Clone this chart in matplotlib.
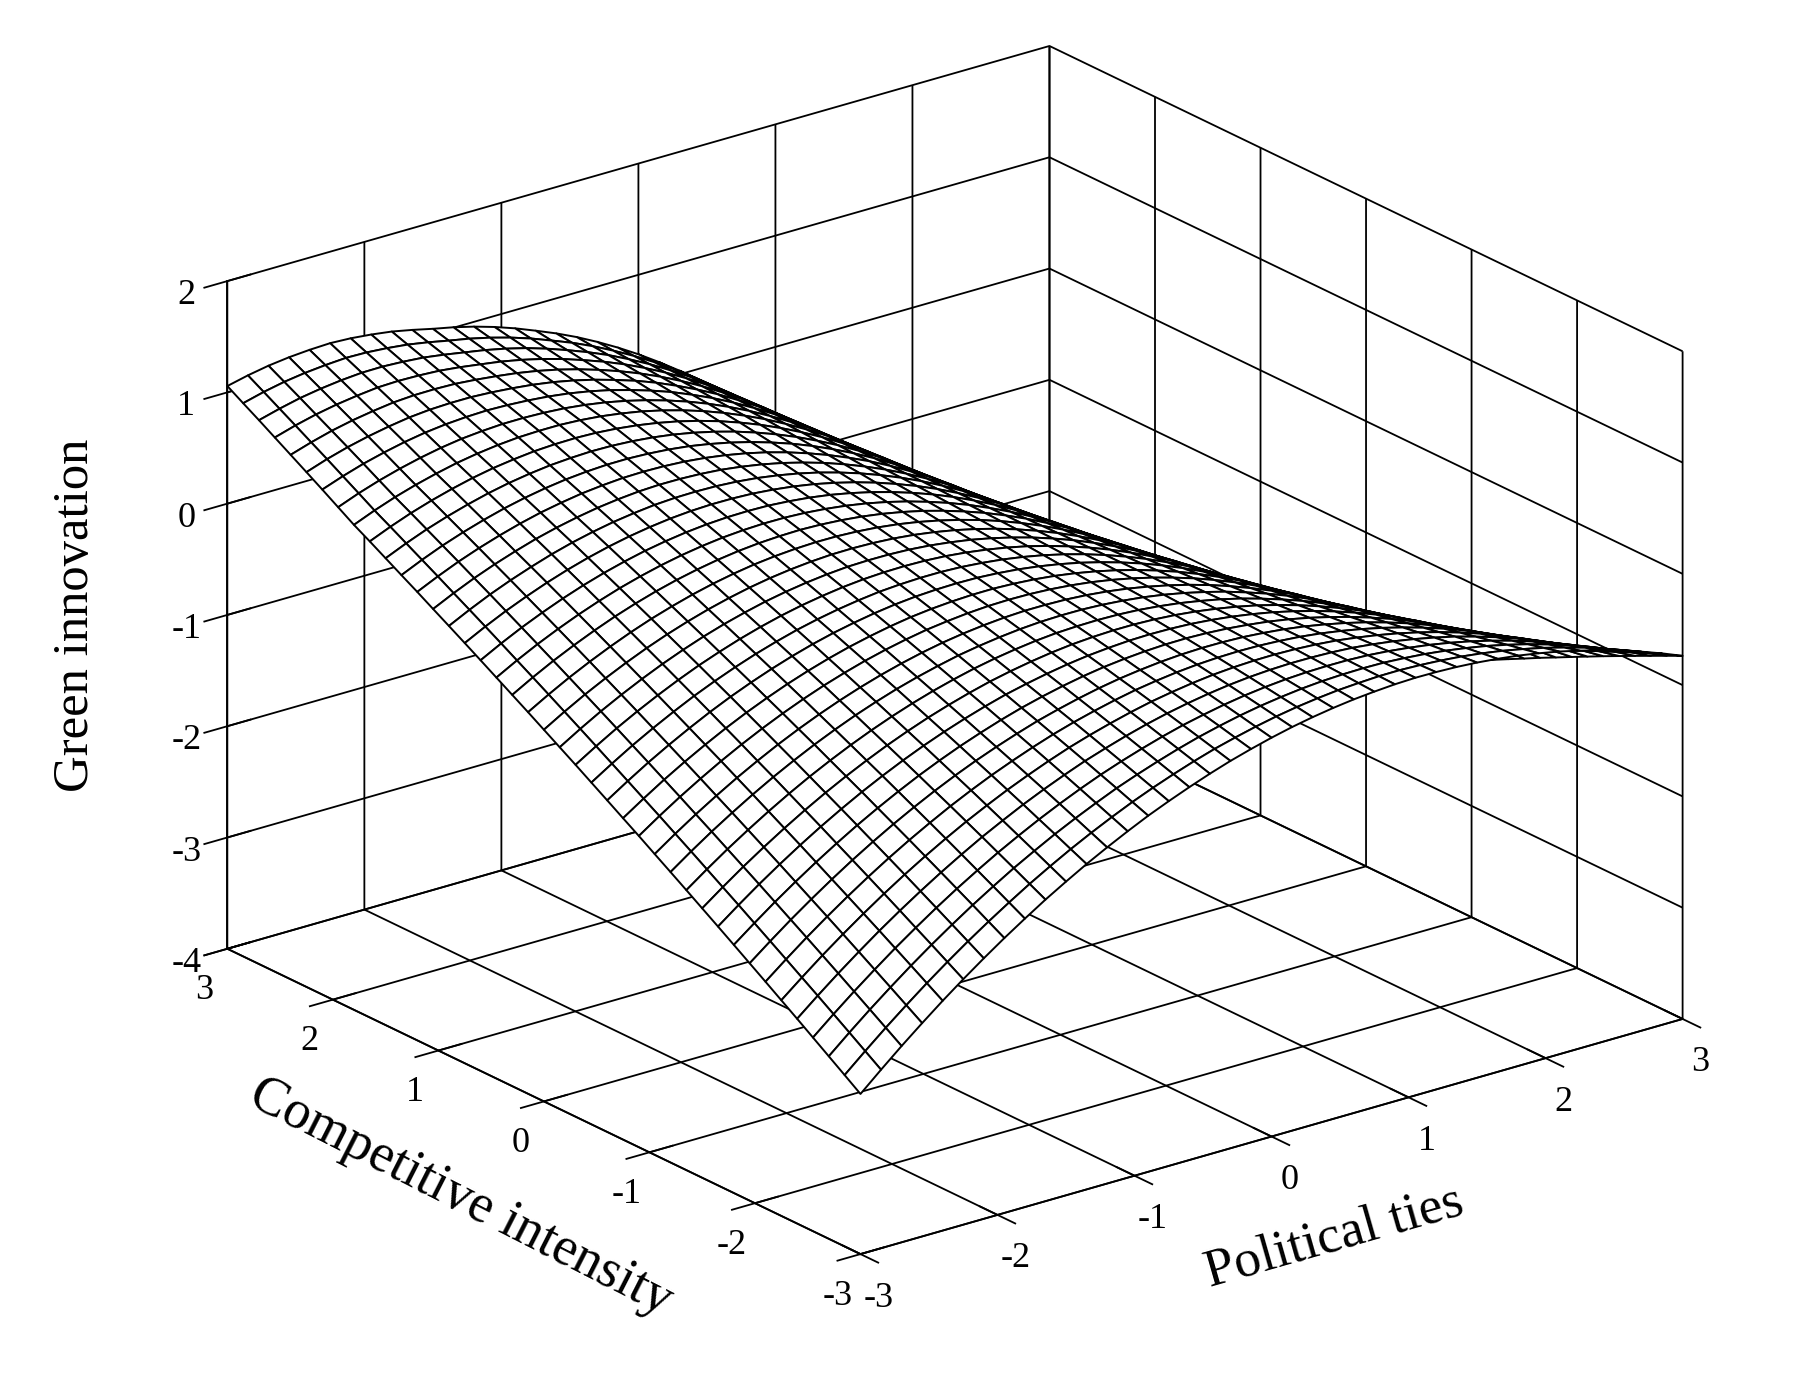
import matplotlib
matplotlib.use('Agg')
import matplotlib.pyplot as plt
from matplotlib.transforms import offset_copy
import numpy as np

plt.rcParams['font.family'] = ['Liberation Serif', 'DejaVu Serif']
plt.rcParams['axes.unicode_minus'] = False

political_ties = [-3.0, -2.85, -2.7, -2.55, -2.4, -2.25, -2.1, -1.95, -1.8, -1.65, -1.5, -1.35, -1.2, -1.05,
                  -0.9, -0.75, -0.6, -0.45, -0.3, -0.15, 0.0, 0.15, 0.3, 0.45, 0.6, 0.75, 0.9, 1.05,
                  1.2, 1.35, 1.5, 1.65, 1.8, 1.95, 2.1, 2.25, 2.4, 2.55, 2.7, 2.85, 3.0]
competitive_intensity = list(political_ties)
ticks_xy = [-3, -2, -1, 0, 1, 2, 3]
ticks_z = [-4, -3, -2, -1, 0, 1, 2]

green_innovation = [
    [-2.561,-2.396,-2.236,-2.083,-1.935,-1.794,-1.659,-1.530,-1.408,-1.290,-1.181,-1.076,-.979,-.887,-.800,-.722,-.649,-.581,-.519,-.465,-.416,-.373,-.337,-.307,-.283,-.266,-.253,-.247,-.249,-.256,-.269,-.288,-.312,-.344,-.381,-.426,-.475,-.531,-.594,-.662,-.737],
    [-2.460,-2.298,-2.141,-1.991,-1.846,-1.708,-1.576,-1.451,-1.332,-1.218,-1.112,-1.011,-.917,-.829,-.746,-.671,-.602,-.538,-.480,-.431,-.386,-.347,-.315,-.290,-.270,-.258,-.249,-.248,-.255,-.267,-.284,-.308,-.338,-.375,-.417,-.467,-.521,-.583,-.651,-.725,-.805],
    [-2.360,-2.200,-2.046,-1.899,-1.757,-1.622,-1.494,-1.371,-1.256,-1.145,-1.043,-.945,-.855,-.771,-.691,-.621,-.556,-.496,-.442,-.396,-.355,-.321,-.294,-.272,-.257,-.249,-.246,-.249,-.261,-.277,-.300,-.329,-.363,-.405,-.453,-.508,-.568,-.635,-.709,-.788,-.874],
    [-2.260,-2.103,-1.952,-1.808,-1.669,-1.538,-1.412,-1.293,-1.181,-1.074,-.975,-.881,-.794,-.713,-.638,-.571,-.510,-.454,-.404,-.363,-.326,-.296,-.273,-.256,-.246,-.242,-.243,-.251,-.267,-.289,-.316,-.350,-.390,-.437,-.490,-.550,-.615,-.688,-.767,-.852,-.943],
    [-2.160,-2.006,-1.858,-1.717,-1.581,-1.453,-1.331,-1.215,-1.106,-1.002,-.907,-.816,-.733,-.656,-.584,-.522,-.464,-.412,-.367,-.329,-.297,-.271,-.252,-.240,-.234,-.235,-.241,-.253,-.274,-.300,-.333,-.372,-.416,-.469,-.527,-.592,-.663,-.741,-.825,-.916,-1.013],
    [-2.062,-1.911,-1.765,-1.627,-1.495,-1.369,-1.250,-1.138,-1.032,-.932,-.840,-.753,-.674,-.600,-.532,-.473,-.420,-.372,-.330,-.297,-.269,-.247,-.233,-.225,-.223,-.228,-.239,-.256,-.282,-.313,-.350,-.394,-.444,-.501,-.564,-.635,-.711,-.794,-.884,-.980,-1.083],
    [-1.964,-1.816,-1.673,-1.538,-1.409,-1.286,-1.170,-1.061,-.959,-.862,-.773,-.690,-.615,-.545,-.481,-.425,-.376,-.332,-.294,-.265,-.241,-.224,-.214,-.210,-.213,-.223,-.238,-.261,-.291,-.327,-.369,-.418,-.473,-.535,-.603,-.680,-.761,-.849,-.945,-1.046,-1.155],
    [-1.867,-1.722,-1.582,-1.450,-1.324,-1.204,-1.092,-.986,-.887,-.794,-.708,-.629,-.557,-.491,-.430,-.379,-.333,-.293,-.260,-.235,-.215,-.202,-.196,-.197,-.204,-.219,-.239,-.266,-.301,-.341,-.388,-.442,-.502,-.570,-.643,-.725,-.811,-.905,-1.006,-1.113,-1.227],
    [-1.770,-1.628,-1.491,-1.362,-1.239,-1.123,-1.013,-.911,-.815,-.725,-.643,-.567,-.499,-.436,-.380,-.332,-.290,-.254,-.225,-.204,-.189,-.180,-.178,-.184,-.196,-.215,-.239,-.271,-.310,-.356,-.408,-.467,-.532,-.605,-.683,-.770,-.862,-.961,-1.067,-1.180,-1.300],
    [-1.674,-1.534,-1.400,-1.274,-1.154,-1.041,-.935,-.835,-.743,-.657,-.578,-.506,-.441,-.382,-.329,-.286,-.248,-.216,-.191,-.174,-.162,-.158,-.161,-.170,-.187,-.210,-.240,-.276,-.320,-.370,-.427,-.491,-.561,-.639,-.723,-.815,-.912,-1.017,-1.129,-1.247,-1.372],
    [-1.579,-1.442,-1.311,-1.188,-1.071,-.961,-.858,-.762,-.673,-.590,-.515,-.446,-.385,-.330,-.281,-.241,-.207,-.179,-.158,-.145,-.138,-.138,-.145,-.159,-.180,-.208,-.242,-.283,-.332,-.387,-.449,-.518,-.593,-.676,-.765,-.862,-.965,-1.075,-1.192,-1.316,-1.447],
    [-1.484,-1.350,-1.222,-1.102,-.988,-.881,-.781,-.689,-.603,-.524,-.452,-.387,-.329,-.278,-.233,-.196,-.166,-.142,-.125,-.117,-.114,-.118,-.129,-.148,-.173,-.206,-.244,-.290,-.344,-.404,-.470,-.544,-.625,-.713,-.807,-.909,-1.017,-1.133,-1.255,-1.385,-1.521],
    [-1.390,-1.258,-1.133,-1.016,-.905,-.801,-.705,-.615,-.533,-.457,-.389,-.327,-.273,-.226,-.184,-.152,-.126,-.106,-.093,-.088,-.089,-.098,-.114,-.136,-.166,-.203,-.247,-.297,-.356,-.420,-.492,-.571,-.656,-.749,-.849,-.956,-1.070,-1.191,-1.319,-1.454,-1.596],
    [-1.297,-1.168,-1.046,-.932,-.824,-.724,-.630,-.544,-.465,-.393,-.328,-.270,-.219,-.175,-.138,-.109,-.087,-.071,-.062,-.062,-.067,-.080,-.100,-.127,-.162,-.203,-.251,-.306,-.369,-.439,-.515,-.599,-.690,-.788,-.893,-1.005,-1.124,-1.251,-1.384,-1.525,-1.672],
    [-1.203,-1.077,-.958,-.847,-.742,-.645,-.555,-.472,-.396,-.327,-.266,-.211,-.164,-.124,-.090,-.066,-.047,-.035,-.031,-.034,-.044,-.061,-.085,-.117,-.156,-.202,-.255,-.314,-.382,-.456,-.538,-.627,-.722,-.826,-.936,-1.053,-1.178,-1.310,-1.448,-1.595,-1.748],
    [-1.112,-.989,-.872,-.764,-.663,-.568,-.481,-.402,-.329,-.264,-.206,-.155,-.112,-.075,-.045,-.024,-.010,-.002,-.001,-.009,-.023,-.044,-.073,-.109,-.152,-.202,-.260,-.324,-.397,-.476,-.562,-.656,-.757,-.865,-.980,-1.103,-1.233,-1.370,-1.514,-1.666,-1.825],
    [-1.020,-.900,-.786,-.681,-.583,-.491,-.407,-.331,-.262,-.200,-.145,-.098,-.059,-.026,.000,.018,.028,.032,.029,.017,-.001,-.027,-.060,-.100,-.148,-.203,-.265,-.335,-.412,-.496,-.587,-.686,-.792,-.905,-1.025,-1.154,-1.289,-1.431,-1.581,-1.738,-1.903],
    [-.929,-.812,-.701,-.599,-.504,-.415,-.335,-.262,-.196,-.138,-.086,-.043,-.007,.022,.045,.058,.065,.065,.057,.041,.019,-.011,-.048,-.093,-.145,-.205,-.272,-.346,-.428,-.516,-.612,-.716,-.827,-.946,-1.071,-1.205,-1.345,-1.493,-1.648,-1.811,-1.981],
    [-.838,-.724,-.616,-.517,-.425,-.340,-.262,-.193,-.130,-.075,-.027,.013,.045,.071,.089,.099,.102,.098,.086,.066,.039,.005,-.036,-.086,-.143,-.207,-.278,-.357,-.443,-.537,-.638,-.747,-.863,-.987,-1.117,-1.256,-1.402,-1.555,-1.715,-1.884,-2.060],
    [-.749,-.637,-.532,-.436,-.347,-.265,-.191,-.124,-.065,-.014,.031,.067,.096,.118,.133,.138,.137,.129,.113,.089,.059,.020,-.026,-.079,-.141,-.209,-.286,-.369,-.460,-.558,-.664,-.778,-.899,-1.028,-1.164,-1.308,-1.459,-1.618,-1.784,-1.958,-2.139],
    [-.660,-.551,-.449,-.356,-.270,-.191,-.120,-.057,-.001,.047,.088,.121,.146,.164,.175,.177,.172,.160,.140,.112,.077,.034,-.016,-.074,-.140,-.213,-.294,-.382,-.478,-.581,-.692,-.811,-.937,-1.071,-1.212,-1.361,-1.518,-1.682,-1.853,-2.033,-2.220],
    [-.571,-.465,-.366,-.276,-.193,-.117,-.049,.010,.063,.108,.145,.175,.196,.210,.217,.216,.207,.191,.167,.135,.095,.048,-.006,-.069,-.139,-.217,-.302,-.395,-.496,-.604,-.720,-.844,-.975,-1.114,-1.260,-1.414,-1.577,-1.746,-1.922,-2.108,-2.301],
    [-.484,-.380,-.284,-.197,-.117,-.044,.020,.077,.126,.167,.201,.227,.245,.255,.259,.253,.240,.220,.192,.156,.113,.061,.002,-.064,-.139,-.221,-.312,-.409,-.515,-.627,-.748,-.877,-1.013,-1.157,-1.309,-1.468,-1.636,-1.811,-1.993,-2.184,-2.382],
    [-.397,-.296,-.203,-.119,-.042,.027,.089,.142,.188,.226,.256,.279,.293,.300,.299,.290,.273,.249,.217,.177,.129,.073,.010,-.061,-.141,-.227,-.322,-.424,-.534,-.652,-.778,-.912,-1.053,-1.202,-1.359,-1.523,-1.697,-1.877,-2.064,-2.261,-2.465],
    [-.310,-.212,-.122,-.041,.033,.099,.157,.207,.250,.284,.311,.330,.341,.344,.340,.326,.306,.278,.241,.197,.145,.085,.018,-.058,-.142,-.233,-.333,-.439,-.554,-.676,-.807,-.946,-1.092,-1.247,-1.409,-1.578,-1.757,-1.943,-2.135,-2.338,-2.547],
    [-.224,-.129,-.042,.036,.107,.170,.225,.272,.311,.342,.366,.381,.388,.387,.379,.362,.338,.306,.265,.217,.161,.096,.025,-.055,-.144,-.240,-.344,-.456,-.575,-.702,-.838,-.982,-1.133,-1.293,-1.460,-1.635,-1.819,-2.010,-2.208,-2.416,-2.631],
    [-.139,-.047,.038,.113,.180,.241,.293,.336,.372,.399,.420,.431,.434,.430,.418,.398,.369,.333,.289,.236,.176,.107,.031,-.053,-.146,-.246,-.355,-.472,-.596,-.728,-.868,-1.017,-1.174,-1.338,-1.510,-1.691,-1.880,-2.076,-2.280,-2.493,-2.714],
    [-.055,.034,.116,.188,.252,.310,.358,.398,.431,.455,.472,.480,.479,.471,.456,.431,.399,.359,.310,.254,.189,.116,.036,-.053,-.150,-.255,-.369,-.490,-.619,-.755,-.901,-1.055,-1.216,-1.386,-1.563,-1.749,-1.944,-2.145,-2.354,-2.573,-2.800],
    [.030,.116,.195,.264,.325,.379,.425,.461,.491,.511,.525,.529,.525,.514,.494,.466,.430,.386,.333,.272,.203,.126,.042,-.052,-.154,-.263,-.381,-.507,-.640,-.782,-.932,-1.091,-1.258,-1.433,-1.615,-1.806,-2.006,-2.213,-2.427,-2.652,-2.884],
    [.112,.196,.272,.338,.396,.447,.489,.523,.549,.566,.576,.577,.569,.554,.531,.498,.458,.410,.353,.289,.216,.134,.045,-.052,-.159,-.272,-.396,-.526,-.664,-.810,-.966,-1.130,-1.301,-1.481,-1.669,-1.865,-2.071,-2.283,-2.503,-2.733,-2.971],
    [.195,.276,.349,.412,.467,.515,.554,.584,.607,.620,.627,.624,.613,.594,.567,.531,.487,.435,.374,.305,.228,.142,.049,-.053,-.164,-.282,-.410,-.545,-.688,-.839,-.999,-1.168,-1.345,-1.530,-1.723,-1.924,-2.135,-2.353,-2.578,-2.814,-3.057],
    [.278,.356,.426,.486,.538,.583,.619,.645,.665,.675,.678,.672,.657,.634,.603,.564,.516,.460,.395,.322,.240,.150,.053,-.054,-.169,-.292,-.424,-.564,-.712,-.868,-1.033,-1.207,-1.389,-1.579,-1.777,-1.983,-2.200,-2.423,-2.653,-2.895,-3.144],
    [.358,.434,.501,.558,.607,.649,.681,.705,.721,.727,.727,.717,.699,.672,.638,.594,.542,.482,.413,.336,.251,.156,.054,-.056,-.176,-.303,-.441,-.585,-.738,-.898,-1.068,-1.247,-1.434,-1.629,-1.833,-2.044,-2.266,-2.495,-2.731,-2.978,-3.232],
    [.448,.520,.582,.635,.680,.717,.745,.762,.773,.774,.768,.755,.733,.703,.664,.617,.562,.499,.427,.346,.257,.159,.054,-.061,-.185,-.315,-.457,-.606,-.763,-.929,-1.104,-1.288,-1.480,-1.680,-1.889,-2.105,-2.333,-2.567,-2.808,-3.061,-3.321],
    [.538,.605,.664,.712,.753,.785,.807,.820,.826,.821,.810,.793,.768,.734,.692,.640,.582,.516,.439,.356,.263,.162,.053,-.065,-.193,-.327,-.474,-.627,-.789,-.959,-1.139,-1.328,-1.525,-1.731,-1.945,-2.166,-2.399,-2.639,-2.885,-3.144,-3.409],
    [.626,.690,.744,.788,.824,.853,.870,.877,.877,.867,.851,.830,.801,.763,.717,.662,.602,.532,.452,.365,.270,.164,.052,-.070,-.201,-.340,-.491,-.650,-.816,-.991,-1.176,-1.370,-1.572,-1.783,-2.002,-2.229,-2.467,-2.712,-2.964,-3.228,-3.499],
    [.713,.772,.823,.863,.894,.919,.931,.933,.928,.912,.891,.866,.833,.792,.742,.684,.619,.546,.464,.373,.274,.165,.049,-.076,-.211,-.353,-.509,-.673,-.844,-1.024,-1.213,-1.412,-1.620,-1.835,-2.059,-2.292,-2.535,-2.785,-3.043,-3.312,-3.589],
    [.800,.855,.901,.937,.964,.985,.991,.987,.977,.956,.929,.901,.864,.819,.766,.703,.636,.560,.474,.380,.277,.165,.046,-.084,-.222,-.368,-.529,-.697,-.873,-1.057,-1.252,-1.456,-1.668,-1.889,-2.118,-2.356,-2.605,-2.860,-3.123,-3.398,-3.681],
    [.887,.937,.980,1.011,1.034,1.049,1.051,1.042,1.027,1.000,.968,.936,.896,.848,.790,.724,.653,.574,.484,.387,.280,.165,.042,-.091,-.234,-.383,-.548,-.721,-.901,-1.091,-1.290,-1.499,-1.717,-1.943,-2.177,-2.420,-2.674,-2.935,-3.203,-3.484,-3.772],
    [.971,1.019,1.057,1.084,1.102,1.114,1.110,1.096,1.075,1.043,1.005,.970,.926,.874,.813,.742,.669,.586,.493,.393,.284,.164,.037,-.099,-.245,-.398,-.569,-.746,-.931,-1.125,-1.330,-1.544,-1.766,-1.997,-2.237,-2.485,-2.745,-3.011,-3.285,-3.571,-3.865],
    [1.057,1.100,1.134,1.157,1.171,1.178,1.169,1.150,1.124,1.086,1.043,1.004,.957,.901,.836,.762,.685,.599,.503,.399,.286,.163,.033,-.107,-.257,-.414,-.589,-.771,-.961,-1.160,-1.369,-1.588,-1.816,-2.052,-2.297,-2.550,-2.815,-3.087,-3.366,-3.658,-3.957],
]

fig = plt.figure(figsize=(17.96, 13.84), dpi=100)
ax = fig.add_axes([82/1796, -139/1384, 1700/1796, 1700/1384], projection='3d', proj_type='ortho')
ax.view_init(elev=21.8, azim=-127.6)
ax.set_box_aspect((1, 1, 0.693), zoom=0.9332)
ax.patch.set_alpha(0)

X, Y = np.meshgrid(political_ties, competitive_intensity)
ax.plot_surface(X, Y, np.array(green_innovation), rstride=1, cstride=1, color='white',
                edgecolor='black', linewidth=1.4, shade=False, antialiased=True)

ax.set_xlim(-3, 3, view_margin=0)
ax.set_ylim(-3, 3, view_margin=0)
ax.set_zlim(-4, 2, view_margin=0)
ax.set_xticks(ticks_xy)
ax.set_yticks(ticks_xy)
ax.set_zticks(ticks_z)
ax.set_xticklabels([str(t) for t in ticks_xy])
ax.set_yticklabels([str(t) for t in ticks_xy])
ax.set_zticklabels([str(t) for t in ticks_z])

for axis in (ax.xaxis, ax.yaxis, ax.zaxis):
    axis.set_pane_color((1, 1, 1, 0))
    axis.pane.set_edgecolor('black')
    axis.pane.set_linewidth(1.3)
    axis.line.set_color('black')
    axis.line.set_linewidth(1.3)
    axis._axinfo['grid'].update(color='black', linewidth=1.3, linestyle='-')
    axis._axinfo['tick'].update(inward_factor=0.35, outward_factor=0.35, linewidth={True: 1.3, False: 1.3})
ax.tick_params(axis='both', labelsize=26, pad=10)
ax.tick_params(axis='z', labelsize=26, pad=10)

# nudge the tick labels, in pixels
for axis, dx, dy in ((ax.xaxis, 20, 1), (ax.yaxis, -13, 6), (ax.zaxis, 7, 20)):
    for tick in axis.get_major_ticks():
        tick.label1.set_transform(offset_copy(tick.label1.get_transform(), fig=fig, x=dx, y=dy, units='dots'))

fig.text(66/1568, 1-537/1208, 'Green innovation', rotation=90, ha='center', va='center', fontsize=36.5)
fig.text(402/1568, 1-1045/1208, 'Competitive intensity', rotation=-27, ha='center', va='center',
         fontsize=39, rotation_mode='anchor')
fig.text(1165/1568, 1-1080/1208, 'Political ties', rotation=16, ha='center', va='center',
         fontsize=38.5, rotation_mode='anchor')

fig.savefig('out.png', dpi=100)
